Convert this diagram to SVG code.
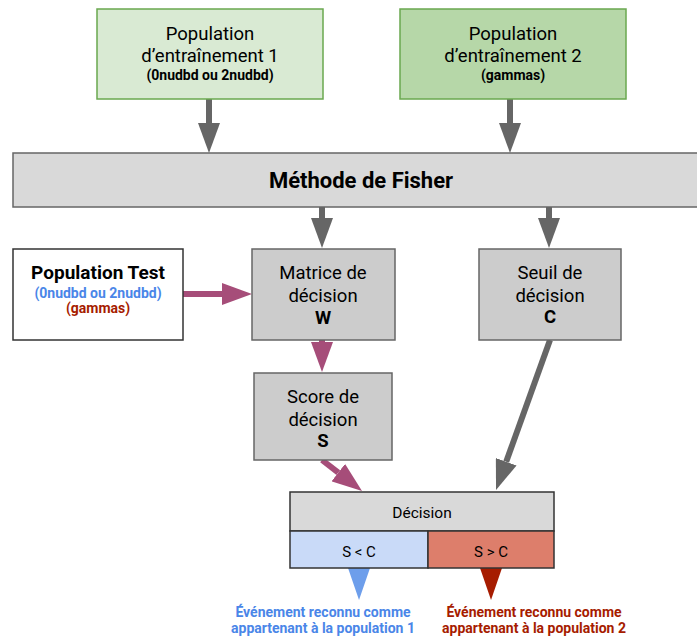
<svg xmlns="http://www.w3.org/2000/svg" width="697" height="636" viewBox="0 0 697 636">
<style>
text{font-family:Roboto,"Liberation Sans",sans-serif;fill:#000;text-anchor:middle}
.t{font-size:18.5px}
.b{font-weight:bold}
.s{font-size:14px;font-weight:bold}
.box{stroke:#666;stroke-width:1.5}
.gl{stroke:#666;stroke-width:6;fill:none}
.pl{stroke:#a64d79;stroke-width:6;fill:none}
</style>
<defs>
<marker id="ag" markerUnits="userSpaceOnUse" markerWidth="30" markerHeight="22" viewBox="0 0 30 22" refX="0" refY="11" orient="auto"><path d="M0,0L30,11L0,22z" fill="#666"/></marker>
<marker id="ap" markerUnits="userSpaceOnUse" markerWidth="30" markerHeight="22" viewBox="0 0 30 22" refX="0" refY="11" orient="auto"><path d="M0,0L30,11L0,22z" fill="#a64d79"/></marker>
</defs>
<g id="connectors">
<line class="gl" x1="209" y1="99" x2="209" y2="123" marker-end="url(#ag)"/>
<line class="gl" x1="510" y1="99" x2="510" y2="123" marker-end="url(#ag)"/>
<line class="gl" x1="322" y1="207" x2="322" y2="218" marker-end="url(#ag)"/>
<line class="gl" x1="549" y1="207" x2="549" y2="218" marker-end="url(#ag)"/>
<line class="pl" x1="183" y1="294" x2="222" y2="294" marker-end="url(#ap)"/>
<line class="pl" x1="322" y1="340" x2="322" y2="342" marker-end="url(#ap)"/>
<line class="pl" x1="322" y1="460" x2="338.3" y2="472.6" marker-end="url(#ap)"/>
<line class="gl" x1="550" y1="340" x2="506.2" y2="461.8" marker-end="url(#ag)"/>
<path d="M348,568L370,568L359,600z" fill="#6d9eeb"/>
<path d="M480,568L502,568L491,600z" fill="#a61c00"/>
</g>
<g id="pop1">
<rect x="97" y="9" width="226" height="90" fill="#d9ead3" stroke="#6aa84f" stroke-width="1.5"/>
<text class="t" x="210" y="40">Population</text>
<text class="t" x="210" y="62">d’entraînement 1</text>
<text class="s" x="210" y="80">(0nudbd ou 2nudbd)</text>
</g>
<g id="pop2">
<rect x="400" y="9" width="226" height="90" fill="#b6d7a8" stroke="#6aa84f" stroke-width="1.5"/>
<text class="t" x="513" y="40">Population</text>
<text class="t" x="513" y="62">d’entraînement 2</text>
<text class="s" x="513" y="80">(gammas)</text>
</g>
<g id="fisher">
<rect class="box" x="13" y="153" width="690" height="54" fill="#d9d9d9" stroke="#595959"/>
<text class="b" x="361" y="188" font-size="22">Méthode de Fisher</text>
</g>
<g id="poptest">
<rect x="13" y="249" width="170" height="91" fill="#fff" stroke="#333" stroke-width="1.5"/>
<text class="b" x="98" y="279" font-size="19">Population Test</text>
<text class="b" x="98" y="298" font-size="14" style="fill:#4a86e8">(0nudbd ou 2nudbd)</text>
<text class="b" x="98" y="313" font-size="14" style="fill:#a61c00">(gammas)</text>
</g>
<g id="matrice">
<rect class="box" x="252" y="249" width="143" height="91" fill="#cccccc"/>
<text class="t" x="323" y="279">Matrice de</text>
<text class="t" x="323" y="302">décision</text>
<text class="t b" x="323" y="324">W</text>
</g>
<g id="seuil">
<rect class="box" x="479" y="249" width="142" height="91" fill="#cccccc"/>
<text class="t" x="550" y="279">Seuil de</text>
<text class="t" x="550" y="302">décision</text>
<text class="t b" x="550" y="323">C</text>
</g>
<g id="score">
<rect class="box" x="254" y="373" width="138" height="87" fill="#cccccc"/>
<text class="t" x="323" y="403">Score de</text>
<text class="t" x="323" y="426">décision</text>
<text class="t b" x="323" y="447">S</text>
</g>
<g id="decision">
<rect x="290" y="492" width="264" height="39" fill="#d9d9d9" stroke="#333" stroke-width="1.5"/>
<text x="422" y="518" font-size="15.5">Décision</text>
</g>
<g id="sinf">
<rect x="290" y="531" width="138" height="37" fill="#c9daf8" stroke="#333" stroke-width="1.5"/>
<text x="359" y="557" font-size="15">S &lt; C</text>
</g>
<g id="ssup">
<rect x="428" y="531" width="126" height="37" fill="#dd7e6b" stroke="#333" stroke-width="1.5"/>
<text x="491" y="557" font-size="15">S &gt; C</text>
</g>
<g id="res1">
<text class="b" x="323" y="617" font-size="14" style="fill:#4a86e8">Événement reconnu comme</text>
<text class="b" x="323" y="633" font-size="14" style="fill:#4a86e8">appartenant à la population 1</text>
</g>
<g id="res2">
<text class="b" x="534" y="617" font-size="14" style="fill:#a61c00">Événement reconnu comme</text>
<text class="b" x="534" y="633" font-size="14" style="fill:#a61c00">appartenant à la population 2</text>
</g>
</svg>
